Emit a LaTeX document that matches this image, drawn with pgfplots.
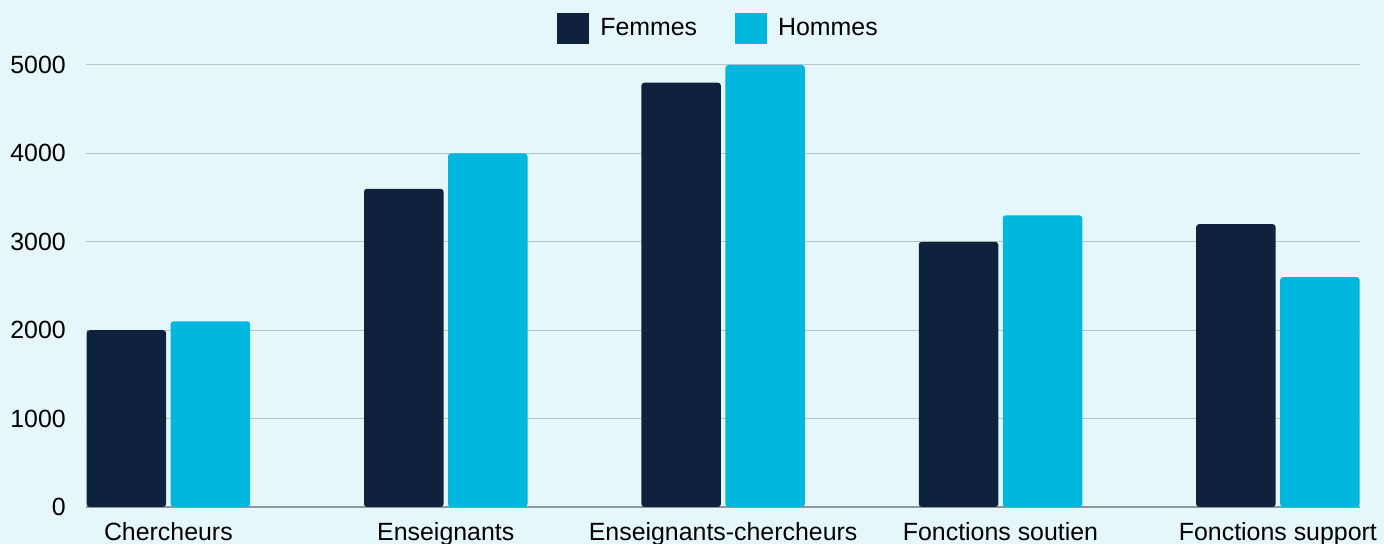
\documentclass[border=0pt]{standalone}
\usepackage{fontspec}
\setmainfont{Liberation Sans}
\usepackage{pgfplots}
\pgfplotsset{compat=1.18}
\definecolor{bgc}{HTML}{E6F7FC}
\definecolor{navy}{HTML}{0E223D}
\definecolor{cyanbar}{HTML}{00B8DE}
\definecolor{gridgray}{HTML}{B7C4C8}
\definecolor{axisgray}{HTML}{8D999E}
\begin{document}
\begin{tikzpicture}
\useasboundingbox (0,0) rectangle (1384bp,544bp);
\fill[bgc] (0,0) rectangle (1384bp,544bp);
\clip (0,0) rectangle (1384bp,544bp);
\begin{axis}[
    at={(86bp,37bp)}, anchor=south west,
    scale only axis, width=1274bp, height=442bp,
    ybar=4.5bp, bar width=79.5bp,
    xmin=-0.297, xmax=4.296,
    ymin=0, ymax=5000,
    xtick={0,1,2,3,4},
    xticklabels={Chercheurs,Enseignants,Enseignants-chercheurs,Fonctions soutien,Fonctions support},
    ytick={0,1000,2000,3000,4000,5000},
    axis x line=bottom, axis y line=left,
    x axis line style={-, draw=axisgray, line width=1.3bp},
    y axis line style={draw=none},
    major tick length=0pt,
    ymajorgrids, grid style={gridgray, line width=1bp},
    /pgf/number format/assume math mode=true,
    /pgf/number format/1000 sep={},
    every tick label/.append style={font=\fontsize{25}{30}\selectfont, text=black},
    xticklabel style={anchor=base, yshift=-33bp},
    yticklabel style={anchor=east, inner sep=0pt, xshift=-20bp},
    every axis plot/.append style={draw=none, rounded corners=3bp},
    legend columns=2,
    legend style={at={(0.4965,1.0837)}, anchor=center, draw=none, fill=none,
        font=\fontsize{25}{30}\selectfont,
        /tikz/every even column/.append style={column sep=36bp}},
    legend image code/.code={\fill[#1, sharp corners] (0bp,-15.5bp) rectangle (32bp,15.5bp);
        \path (41bp,0bp);},
]
\addplot[fill=navy] coordinates {(0,2000) (1,3600) (2,4800) (3,3000) (4,3200)};
\addplot[fill=cyanbar] coordinates {(0,2100) (1,4000) (2,5000) (3,3300) (4,2600)};
\legend{Femmes,Hommes}
\end{axis}
\end{tikzpicture}
\end{document}
